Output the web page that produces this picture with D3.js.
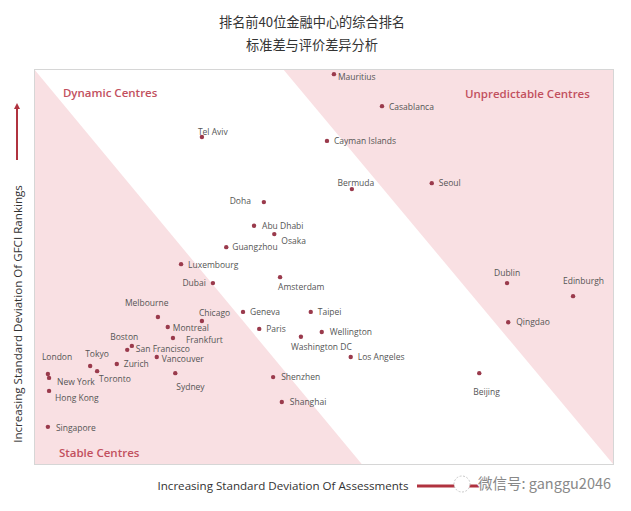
<!DOCTYPE html>
<html>
<head>
<meta charset="utf-8">
<script src="https://cdn.jsdelivr.net/npm/d3@7/dist/d3.min.js"></script>
<style>
  html, body { margin: 0; padding: 0; background: #fff; }
  svg { display: block; }
</style>
</head>
<body>
<svg id="chart" width="631" height="511"></svg>
<script>
// ---------- DATA ----------
const titleLines = ["排名前40位金融中心的综合排名", "标准差与评价差异分析"];
const xAxisLabel = "Increasing Standard Deviation Of Assessments";
const yAxisLabel = "Increasing Standard Deviation Of GFCI Rankings";
const watermark = "微信号: ganggu2046";

const cities = ["Mauritius","Casablanca","Cayman Islands","Bermuda","Seoul","Tel Aviv","Doha","Abu Dhabi","Osaka","Guangzhou",
  "Luxembourg","Dubai","Amsterdam","Melbourne","Chicago","Geneva","Montreal","Paris","Frankfurt","Boston",
  "San Francisco","Vancouver","Zurich","Tokyo","Toronto","London","New York","Hong Kong","Singapore","Sydney",
  "Shenzhen","Shanghai","Taipei","Wellington","Washington DC","Los Angeles","Beijing","Dublin","Edinburgh","Qingdao"];
// standard deviation of assessments (relative units, 0-100)
const assessSD = [51.8,60.1,50.6,54.9,68.7,29.0,39.7,38.0,41.5,33.2,
  25.4,30.9,42.5,21.4,29.0,36.1,23.1,38.9,24.0,16.1,
  16.9,21.2,14.3,9.7,10.9,2.4,2.6,2.6,2.4,24.4,
  41.3,42.8,47.8,49.7,46.1,54.7,76.9,81.7,93.1,81.9];
// standard deviation of GFCI rankings (relative units, 0-100)
const rankSD = [98.7,90.6,81.8,69.6,71.1,82.8,66.3,60.3,58.2,54.9,
  50.6,45.8,47.3,37.2,36.2,38.5,34.7,34.2,31.9,28.9,
  29.9,27.1,25.3,24.8,23.5,22.8,21.8,18.5,9.4,23.0,
  22.0,15.7,38.5,33.4,32.2,27.1,23.0,45.8,42.5,35.9];

// zone corner points (data units)
const stableZone = [[0,100],[0,0],[56.6,0]];
const unpredictableZone = [[43,100],[100,100],[100,0]];
const zoneLabels = ["Dynamic Centres","Unpredictable Centres","Stable Centres"];

// ---------- LAYOUT (label placement, not data) ----------
const labelLayout = {
  "Mauritius":[4,6,"start"], "Casablanca":[7,4,"start"], "Cayman Islands":[7,3,"start"],
  "Bermuda":[4,-3,"middle"], "Seoul":[7,3,"start"], "Tel Aviv":[-4,-2,"start"],
  "Doha":[-13,2,"end"], "Abu Dhabi":[8,3,"start"], "Osaka":[7,10,"start"],
  "Guangzhou":[6,3,"start"], "Luxembourg":[7,4,"start"], "Dubai":[-7,3,"end"],
  "Amsterdam":[-2,13,"start"], "Melbourne":[-33,-11,"start"], "Chicago":[-3,-5,"start"],
  "Geneva":[7,3,"start"], "Montreal":[5,4,"start"], "Paris":[7,3,"start"],
  "Frankfurt":[13,5,"start"], "Boston":[-17,-10,"start"], "San Francisco":[4,6,"start"],
  "Vancouver":[5,5,"start"], "Zurich":[7,3,"start"], "Tokyo":[-5,-9,"start"],
  "Toronto":[2,11,"start"], "London":[-6,-14,"start"], "New York":[8,7,"start"],
  "Hong Kong":[6,10,"start"], "Singapore":[8,4,"start"], "Sydney":[1,17,"start"],
  "Shenzhen":[8,3,"start"], "Shanghai":[8,3,"start"], "Taipei":[7,3,"start"],
  "Wellington":[8,3,"start"], "Washington DC":[-10,13,"start"], "Los Angeles":[7,3,"start"],
  "Beijing":[-6,22,"start"], "Dublin":[-13,-7,"start"], "Edinburgh":[-10,-12,"start"],
  "Qingdao":[8,3,"start"]
};

// ---------- DRAW ----------
const svg = d3.select("#chart");
const plot = {left:34, top:69, right:613, bottom:464};
const x = d3.scaleLinear().domain([0,100]).range([plot.left, plot.right]);
const y = d3.scaleLinear().domain([0,100]).range([plot.bottom, plot.top]);

const font = "'Open Sans', 'DejaVu Sans', sans-serif";
const cjk = "'Noto Sans CJK SC', sans-serif";

// title
svg.append("g").selectAll("text").data(titleLines).join("text")
  .attr("x", 312).attr("y", (d,i) => 27 + i*23)
  .attr("text-anchor","middle")
  .attr("font-family", cjk).attr("font-size", 13.2)
  .attr("fill","#333").text(d => d);

// plot background
svg.append("rect")
  .attr("x", plot.left).attr("y", plot.top)
  .attr("width", plot.right-plot.left).attr("height", plot.bottom-plot.top)
  .attr("fill","#fff");

const line = d3.line().x(d => x(d[0])).y(d => y(d[1]));
svg.append("g").selectAll("path").data([stableZone, unpredictableZone]).join("path")
  .attr("d", d => line(d) + "Z")
  .attr("fill", "#f9e0e3");

svg.append("rect")
  .attr("x", plot.left+0.5).attr("y", plot.top+0.5)
  .attr("width", plot.right-plot.left).attr("height", plot.bottom-plot.top)
  .attr("fill","none").attr("stroke","#d6d6d6").attr("stroke-width",1);

// zone labels
const zoneLabelPos = [
  {x: x(5), y: y(92.8), anchor:"start"},
  {x: x(96), y: y(92.6), anchor:"end"},
  {x: x(4.3), y: y(1.8), anchor:"start"}
];
svg.append("g").selectAll("text").data(zoneLabels).join("text")
  .attr("x", (d,i) => zoneLabelPos[i].x).attr("y", (d,i) => zoneLabelPos[i].y)
  .attr("text-anchor", (d,i) => zoneLabelPos[i].anchor)
  .attr("font-family", font).attr("font-size", 11.5).attr("font-weight", 600)
  .attr("fill","#c2505e").text(d => d);

// points
const pts = cities.map((c,i) => ({name:c, ax:assessSD[i], ry:rankSD[i]}));
svg.append("g").selectAll("circle").data(pts).join("circle")
  .attr("cx", d => x(d.ax)).attr("cy", d => y(d.ry)).attr("r", 2.2)
  .attr("fill","#9a3a4c");

svg.append("g").selectAll("text").data(pts).join("text")
  .attr("x", d => x(d.ax) + labelLayout[d.name][0])
  .attr("y", d => y(d.ry) + labelLayout[d.name][1])
  .attr("text-anchor", d => labelLayout[d.name][2])
  .attr("font-family", font).attr("font-size", 8.5)
  .attr("fill","#555").text(d => d.name);

// axis labels
svg.append("text")
  .attr("x", 283).attr("y", 490)
  .attr("text-anchor","middle")
  .attr("font-family", font).attr("font-size", 11.6).attr("fill","#333")
  .text(xAxisLabel);

svg.append("text")
  .attr("transform", "translate(22,314) rotate(-90)")
  .attr("text-anchor","middle")
  .attr("font-family", font).attr("font-size", 11.6).attr("fill","#333")
  .text(yAxisLabel);

// arrows
const defs = svg.append("defs");
defs.append("marker").attr("id","ah").attr("viewBox","0 0 10 10")
  .attr("refX",5).attr("refY",5).attr("markerWidth",3).attr("markerHeight",3)
  .attr("orient","auto")
  .append("path").attr("d","M0,0L10,5L0,10Z").attr("fill","#b0323f");

svg.append("line").attr("x1",17).attr("y1",160).attr("x2",17).attr("y2",106)
  .attr("stroke","#b0323f").attr("stroke-width",2).attr("marker-end","url(#ah)");
svg.append("line").attr("x1",417).attr("y1",486).attr("x2",482).attr("y2",486)
  .attr("stroke","#b0323f").attr("stroke-width",3);

// watermark
svg.append("circle").attr("cx",462).attr("cy",484).attr("r",8)
  .attr("fill","#fff").attr("stroke","#bbb").attr("stroke-width",0.8).attr("stroke-dasharray","2,1.5");
svg.append("text")
  .attr("x", 478).attr("y", 489)
  .attr("font-family", cjk).attr("font-size", 14.5)
  .attr("fill","#888").attr("stroke","#fff").attr("stroke-width",2).attr("paint-order","stroke")
  .text(watermark);
</script>
</body>
</html>
